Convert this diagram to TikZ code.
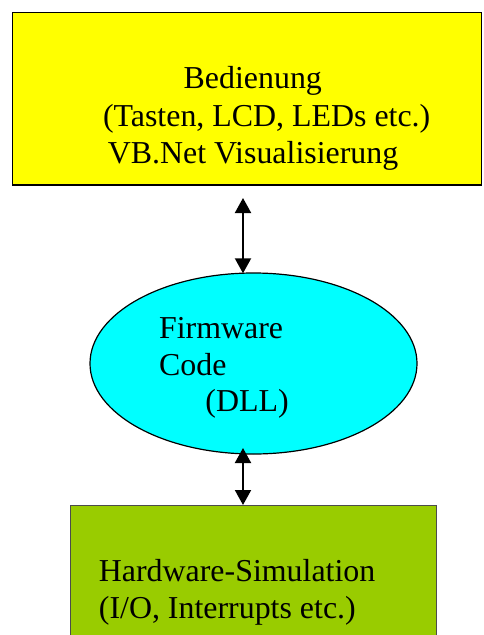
\documentclass[tikz,border=0pt]{standalone}
\usepackage{fontspec}
\setmainfont{Liberation Serif}
\newfontfamily\lserif{Liberation Serif}
\usetikzlibrary{arrows.meta,shapes.geometric}
\definecolor{boxyellow}{HTML}{FFFF00}
\definecolor{ellcyan}{HTML}{00FFFF}
\definecolor{hwgreen}{HTML}{99CC00}
\begin{document}
\begin{tikzpicture}[x=1pt,y=-1pt,
  lbl/.style={anchor=base west,inner sep=0pt,font=\lserif\fontsize{31.9}{37.5}\selectfont},
  biarrow/.style={line width=2pt,{Triangle[length=15pt,width=16pt]}-{Triangle[length=15pt,width=16pt]}}]
\useasboundingbox (0,0) rectangle (483,635);
% top box
\node[draw=black,line width=1.5pt,fill=boxyellow,rectangle,inner sep=0pt,
  minimum width=469pt,minimum height=172.5pt] (ui) at (247,98.8) {};
\node[lbl] (ui1) at (183.5,88.3) {Bedienung};
\node[lbl] (ui2) at (102.8,126) {(Tasten, LCD, LEDs etc.)};
\node[lbl] (ui3) at (107.6,163.3) {VB.Net Visualisierung};
% ellipse
\node[draw=black,line width=1.2pt,fill=ellcyan,ellipse,inner sep=0pt,
  minimum width=327pt,minimum height=181pt] (fw) at (253.5,363.5) {};
\node[lbl] (fw1) at (158.9,338.3) {Firmware};
\node[lbl] (fw2) at (158.9,375) {Code};
\node[lbl] (fw3) at (205.2,411.7) {(DLL)};
% bottom box
\node[draw=black!70,line width=1pt,fill=hwgreen,rectangle,inner sep=0pt,
  minimum width=366pt,minimum height=150pt,anchor=north west] (hw) at (70,505) {};
\node[lbl] (hw1) at (98.7,581.7) {Hardware-Simulation};
\node[lbl] (hw2) at (98.7,618.3) {(I/O, Interrupts etc.)};
% arrows
\coordinate (a1) at (243,198);
\coordinate (a2) at (243,273.3);
\coordinate (b1) at (243,448);
\draw[biarrow] (a1) -- (a2);
\draw[biarrow] (b1) -- (hw.north -| b1);
\end{tikzpicture}
\end{document}
